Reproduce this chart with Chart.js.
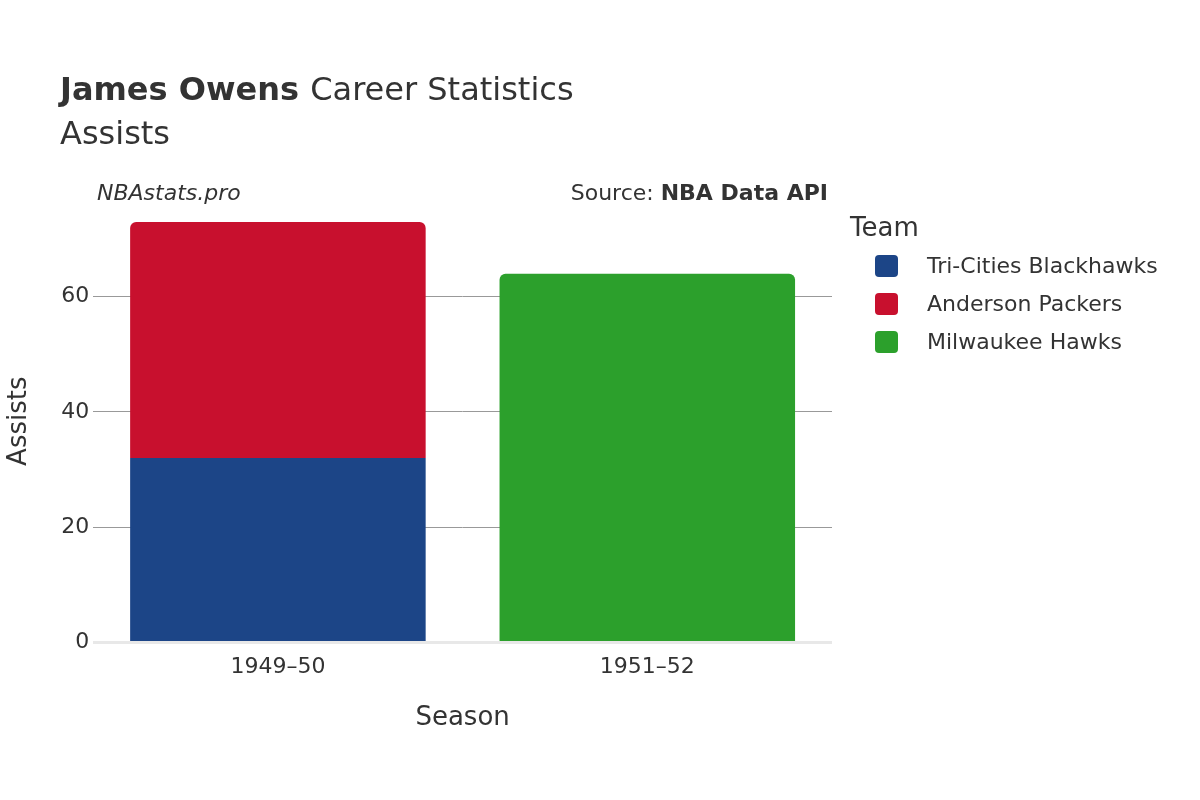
<!DOCTYPE html>
<html>
<head>
<meta charset="utf-8">
<script src="https://cdn.jsdelivr.net/npm/chart.js@4"></script>
<style>
  body { margin: 0; background: #fff; }
  #wrap { width: 1200px; height: 800px; }
</style>
</head>
<body>
<div id="wrap"><canvas id="myChart" width="1200" height="800"></canvas></div>
<script>
"use strict";

var seasons = ["1949\u201350", "1951\u201352"];
var triCities = [32, null];
var anderson = [41, null];
var milwaukee = [null, 64];
var yTicks = [0, 20, 40, 60];

var FONT = "'DejaVu Sans', 'Noto Sans', sans-serif";
var TEXT = '#333333';

var overlay = {
    id: 'overlay',
    afterDraw: function(chart) {
        var c = chart.ctx;
        c.save();
        c.fillStyle = TEXT;
        c.textBaseline = 'alphabetic';
        c.textAlign = 'left';
        c.font = 'bold 32px ' + FONT;
        c.fillText('James Owens', 60, 100);
        var w = c.measureText('James Owens ').width;
        c.font = '32px ' + FONT;
        c.fillText('Career Statistics', 60 + w, 100);
        c.fillText('Assists', 60, 144);

        c.font = 'italic 22px ' + FONT;
        c.fillText('NBAstats.pro', 97, 200);
        c.textAlign = 'right';
        c.font = 'bold 22px ' + FONT;
        c.fillText('NBA Data API', 828, 200);
        var bw = c.measureText('NBA Data API').width;
        c.font = '22px ' + FONT;
        c.fillText('Source: ', 828 - bw, 200);

        // legend
        c.textAlign = 'left';
        c.font = '26px ' + FONT;
        c.fillText('Team', 850, 236);
        c.font = '22px ' + FONT;
        chart.data.datasets.forEach(function(ds, i) {
            var y = 266 + i * 38;
            c.fillStyle = ds.backgroundColor;
            c.beginPath();
            c.roundRect(875, y - 11, 23, 22, 4);
            c.fill();
            c.fillStyle = TEXT;
            c.textBaseline = 'middle';
            c.fillText(ds.label, 927, y + 1);
        });
        c.restore();
    }
};

var chart = new Chart(document.getElementById('myChart').getContext('2d'), {
    type: 'bar',
    data: {
        labels: seasons,
        datasets: [{
            label: 'Tri-Cities Blackhawks',
            backgroundColor: '#1c4587',
            data: triCities
        }, {
            label: 'Anderson Packers',
            backgroundColor: '#c8102e',
            data: anderson
        }, {
            label: 'Milwaukee Hawks',
            backgroundColor: '#2ca02c',
            data: milwaukee
        }]
    },
    options: {
        responsive: false,
        animation: false,
        layout: { padding: { left: 0, right: 368, top: 200, bottom: 62 } },
        datasets: {
            bar: { barPercentage: 0.8, categoryPercentage: 1, borderRadius: 6, borderSkipped: 'start' }
        },
        plugins: { legend: { display: false }, tooltip: { enabled: false } },
        scales: {
            x: {
                stacked: true,
                grid: { display: false },
                border: { display: false },
                ticks: { color: TEXT, font: { family: FONT, size: 22 }, padding: 4 },
                title: { display: true, text: 'Season', color: TEXT, font: { family: FONT, size: 26 }, padding: { top: 18 } }
            },
            y: {
                stacked: true,
                min: 0,
                max: 76.8,
                afterBuildTicks: function(axis) {
                    axis.ticks = yTicks.map(function(v) { return { value: v }; });
                },
                grid: {
                    color: function(ctx) { return ctx.tick && ctx.tick.value === 0 ? '#e8e8e8' : '#999999'; },
                    lineWidth: function(ctx) { return ctx.tick && ctx.tick.value === 0 ? 3 : 1; },
                    drawTicks: false
                },
                border: { display: false },
                ticks: { color: TEXT, font: { family: FONT, size: 22 }, padding: 4 },
                title: { display: true, text: 'Assists', color: TEXT, font: { family: FONT, size: 26 }, padding: { bottom: 22 } }
            }
        }
    },
    plugins: [overlay]
});
</script>
</body>
</html>
